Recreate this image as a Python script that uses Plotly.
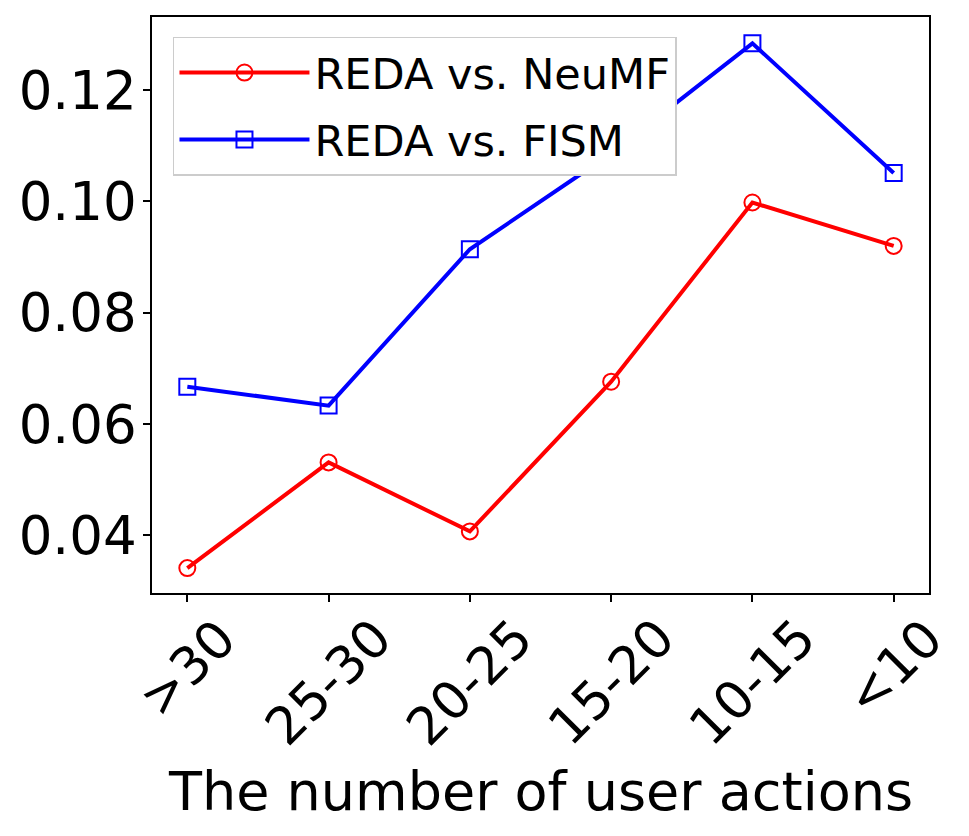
import plotly.graph_objects as go

categories = [">30", "25-30", "20-25", "15-20", "10-15", "<10"]
neumf = [0.0341, 0.0531, 0.0407, 0.0676, 0.0998, 0.0920]
fism = [0.0667, 0.0633, 0.0914, 0.1086, 0.1284, 0.1051]
y_ticks = [0.04, 0.06, 0.08, 0.10, 0.12]
y_tick_text = ["0.04", "0.06", "0.08", "0.10", "0.12"]
x_title = "The number of user actions"

FONT = "DejaVu Sans"

fig = go.Figure()
fig.add_trace(go.Scatter(
    x=categories, y=neumf, mode="lines+markers", name="REDA vs. NeuMF",
    legendgroup="a",
    line=dict(color="red", width=4),
    marker=dict(symbol="circle-open", size=16, color="red", line=dict(width=2, color="red")),
))
fig.add_trace(go.Scatter(
    x=categories, y=fism, mode="lines+markers", name="REDA vs. FISM",
    legendgroup="b",
    line=dict(color="blue", width=4),
    marker=dict(symbol="square-open", size=16, color="blue", line=dict(width=2, color="blue")),
))

# rotated tick labels centred under their ticks (matplotlib style)
for c in categories:
    fig.add_annotation(
        x=c, y=0, xref="x", yref="paper", text=c, showarrow=False,
        textangle=-45, xanchor="center", yanchor="top", yshift=-12,
        font=dict(family=FONT, size=52, color="black"),
    )
fig.add_annotation(
    x=0.5, y=-0.345, xref="paper", yref="paper", text=x_title, showarrow=False,
    xanchor="center", yanchor="middle",
    font=dict(family=FONT, size=54, color="black"),
)

fig.update_layout(
    width=969, height=836,
    margin=dict(l=144, r=48, t=7, b=251),
    paper_bgcolor="white", plot_bgcolor="white",
    font=dict(family=FONT, color="black"),
    showlegend=True,
    legend=dict(
        x=0.027, y=0.966, xanchor="left", yanchor="top",
        bgcolor="white", bordercolor="#cccccc", borderwidth=1.5,
        font=dict(family=FONT, size=43, color="black"),
        itemwidth=130, tracegroupgap=8,
    ),
    xaxis=dict(
        type="category", range=[-0.25, 5.25],
        showgrid=False, zeroline=False, showticklabels=False,
        ticks="outside", ticklen=7, tickwidth=1.5, tickcolor="black",
        showline=True, linecolor="black", linewidth=1.5, mirror=True,
    ),
    yaxis=dict(
        range=[0.02963, 0.13313], tickvals=y_ticks, ticktext=y_tick_text,
        showgrid=False, zeroline=False,
        ticks="outside", ticklen=7, tickwidth=1.5, tickcolor="black",
        tickfont=dict(family=FONT, size=53, color="black"),
        ticklabelstandoff=-4,
        showline=True, linecolor="black", linewidth=1.5, mirror=True,
    ),
)

fig.write_html("out.html")
